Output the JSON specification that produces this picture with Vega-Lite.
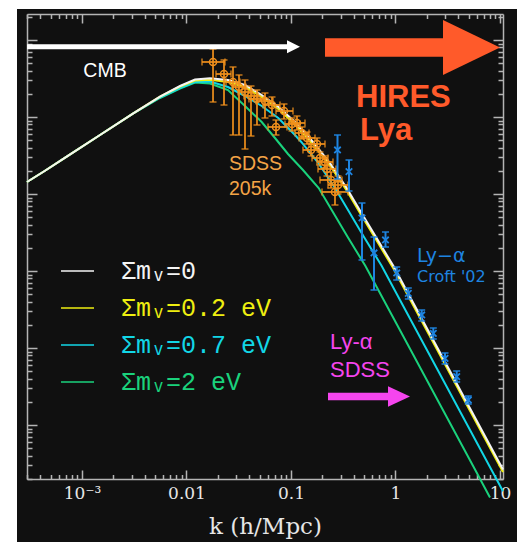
{
  "$schema": "https://vega.github.io/schema/vega-lite/v6.json",
  "width": 500,
  "height": 533,
  "autosize": {"type": "none"},
  "padding": {"left": 17, "top": 9, "right": 8, "bottom": 12},
  "background": "#ffffff",
  "config": {
    "view": {"stroke": null, "fill": "#101010"},
    "axis": {"grid": false}
  },
  "datasets": {
    "curves": [
      {"model": "Σmᵥ=2 eV", "k": 0.00029764, "P": 1432},
      {"model": "Σmᵥ=2 eV", "k": 0.0004425, "P": 2004},
      {"model": "Σmᵥ=2 eV", "k": 0.0007138, "P": 3051},
      {"model": "Σmᵥ=2 eV", "k": 0.001487, "P": 5838},
      {"model": "Σmᵥ=2 eV", "k": 0.003097, "P": 11170},
      {"model": "Σmᵥ=2 eV", "k": 0.005577, "P": 17650},
      {"model": "Σmᵥ=2 eV", "k": 0.008667, "P": 23450},
      {"model": "Σmᵥ=2 eV", "k": 0.01206, "P": 28060},
      {"model": "Σmᵥ=2 eV", "k": 0.01679, "P": 27230},
      {"model": "Σmᵥ=2 eV", "k": 0.02494, "P": 22420},
      {"model": "Σmᵥ=2 eV", "k": 0.03629, "P": 13900},
      {"model": "Σmᵥ=2 eV", "k": 0.05244, "P": 8610},
      {"model": "Σmᵥ=2 eV", "k": 0.07029, "P": 5338},
      {"model": "Σmᵥ=2 eV", "k": 0.09362, "P": 3307},
      {"model": "Σmᵥ=2 eV", "k": 0.1302, "P": 2049},
      {"model": "Σmᵥ=2 eV", "k": 0.1841, "P": 1196},
      {"model": "Σmᵥ=2 eV", "k": 0.2468, "P": 610.6},
      {"model": "Σmᵥ=2 eV", "k": 0.3512, "P": 272.3},
      {"model": "Σmᵥ=2 eV", "k": 0.514, "P": 116.8},
      {"model": "Σmᵥ=2 eV", "k": 0.7711, "P": 42.02},
      {"model": "Σmᵥ=2 eV", "k": 1.439, "P": 8.716},
      {"model": "Σmᵥ=2 eV", "k": 2.786, "P": 1.648},
      {"model": "Σmᵥ=2 eV", "k": 5.765, "P": 0.2643},
      {"model": "Σmᵥ=2 eV", "k": 8.022, "P": 0.1147},
      {"model": "Σmᵥ=0.7 eV", "k": 0.00029764, "P": 1432},
      {"model": "Σmᵥ=0.7 eV", "k": 0.0004425, "P": 2004},
      {"model": "Σmᵥ=0.7 eV", "k": 0.0007138, "P": 3051},
      {"model": "Σmᵥ=0.7 eV", "k": 0.001487, "P": 5838},
      {"model": "Σmᵥ=0.7 eV", "k": 0.003097, "P": 11170},
      {"model": "Σmᵥ=0.7 eV", "k": 0.005577, "P": 17920},
      {"model": "Σmᵥ=0.7 eV", "k": 0.008667, "P": 23800},
      {"model": "Σmᵥ=0.7 eV", "k": 0.01206, "P": 28480},
      {"model": "Σmᵥ=0.7 eV", "k": 0.01679, "P": 28910},
      {"model": "Σmᵥ=0.7 eV", "k": 0.02494, "P": 24520},
      {"model": "Σmᵥ=0.7 eV", "k": 0.03629, "P": 18740},
      {"model": "Σmᵥ=0.7 eV", "k": 0.05244, "P": 13900},
      {"model": "Σmᵥ=0.7 eV", "k": 0.07556, "P": 9705},
      {"model": "Σmᵥ=0.7 eV", "k": 0.1092, "P": 5838},
      {"model": "Σmᵥ=0.7 eV", "k": 0.1255, "P": 4735},
      {"model": "Σmᵥ=0.7 eV", "k": 0.1825, "P": 2527},
      {"model": "Σmᵥ=0.7 eV", "k": 0.2636, "P": 1196},
      {"model": "Σmᵥ=0.7 eV", "k": 0.3535, "P": 610.6},
      {"model": "Σmᵥ=0.7 eV", "k": 0.5028, "P": 272.3},
      {"model": "Σmᵥ=0.7 eV", "k": 0.7362, "P": 116.8},
      {"model": "Σmᵥ=0.7 eV", "k": 1.104, "P": 42.02},
      {"model": "Σmᵥ=0.7 eV", "k": 2.06, "P": 8.716},
      {"model": "Σmᵥ=0.7 eV", "k": 3.99, "P": 1.648},
      {"model": "Σmᵥ=0.7 eV", "k": 8.255, "P": 0.2643},
      {"model": "Σmᵥ=0.7 eV", "k": 10.684, "P": 0.1381},
      {"model": "Σmᵥ=0.2 eV", "k": 0.00029764, "P": 1432},
      {"model": "Σmᵥ=0.2 eV", "k": 0.0004425, "P": 2004},
      {"model": "Σmᵥ=0.2 eV", "k": 0.0007138, "P": 3051},
      {"model": "Σmᵥ=0.2 eV", "k": 0.001487, "P": 5838},
      {"model": "Σmᵥ=0.2 eV", "k": 0.003097, "P": 11170},
      {"model": "Σmᵥ=0.2 eV", "k": 0.005577, "P": 18350},
      {"model": "Σmᵥ=0.2 eV", "k": 0.008667, "P": 24890},
      {"model": "Σmᵥ=0.2 eV", "k": 0.01206, "P": 29790},
      {"model": "Σmᵥ=0.2 eV", "k": 0.01679, "P": 30420},
      {"model": "Σmᵥ=0.2 eV", "k": 0.02494, "P": 28480},
      {"model": "Σmᵥ=0.2 eV", "k": 0.03629, "P": 24520},
      {"model": "Σmᵥ=0.2 eV", "k": 0.05244, "P": 18190},
      {"model": "Σmᵥ=0.2 eV", "k": 0.07556, "P": 12700},
      {"model": "Σmᵥ=0.2 eV", "k": 0.1092, "P": 7990},
      {"model": "Σmᵥ=0.2 eV", "k": 0.1624, "P": 4395},
      {"model": "Σmᵥ=0.2 eV", "k": 0.2361, "P": 2345},
      {"model": "Σmᵥ=0.2 eV", "k": 0.3412, "P": 1110},
      {"model": "Σmᵥ=0.2 eV", "k": 0.4573, "P": 566.5},
      {"model": "Σmᵥ=0.2 eV", "k": 0.6508, "P": 255.7},
      {"model": "Σmᵥ=0.2 eV", "k": 0.9526, "P": 108.4},
      {"model": "Σmᵥ=0.2 eV", "k": 1.429, "P": 38.98},
      {"model": "Σmᵥ=0.2 eV", "k": 2.666, "P": 8.088},
      {"model": "Σmᵥ=0.2 eV", "k": 5.163, "P": 1.529},
      {"model": "Σmᵥ=0.2 eV", "k": 10.684, "P": 0.2453},
      {"model": "Σmᵥ=0", "k": 0.00029764, "P": 1432},
      {"model": "Σmᵥ=0", "k": 0.0004425, "P": 2004},
      {"model": "Σmᵥ=0", "k": 0.0007138, "P": 3051},
      {"model": "Σmᵥ=0", "k": 0.001487, "P": 5838},
      {"model": "Σmᵥ=0", "k": 0.003097, "P": 11170},
      {"model": "Σmᵥ=0", "k": 0.005577, "P": 18350},
      {"model": "Σmᵥ=0", "k": 0.008667, "P": 25270},
      {"model": "Σmᵥ=0", "k": 0.01206, "P": 30690},
      {"model": "Σmᵥ=0", "k": 0.01679, "P": 31900},
      {"model": "Σmᵥ=0", "k": 0.02494, "P": 30230},
      {"model": "Σmᵥ=0", "k": 0.03629, "P": 26030},
      {"model": "Σmᵥ=0", "k": 0.05244, "P": 19310},
      {"model": "Σmᵥ=0", "k": 0.07556, "P": 13610},
      {"model": "Σmᵥ=0", "k": 0.1092, "P": 8610},
      {"model": "Σmᵥ=0", "k": 0.1624, "P": 4735},
      {"model": "Σmᵥ=0", "k": 0.2361, "P": 2527},
      {"model": "Σmᵥ=0", "k": 0.3412, "P": 1196},
      {"model": "Σmᵥ=0", "k": 0.4573, "P": 610.6},
      {"model": "Σmᵥ=0", "k": 0.6508, "P": 275.6},
      {"model": "Σmᵥ=0", "k": 0.9526, "P": 116.8},
      {"model": "Σmᵥ=0", "k": 1.429, "P": 42.02},
      {"model": "Σmᵥ=0", "k": 2.666, "P": 8.716},
      {"model": "Σmᵥ=0", "k": 5.163, "P": 1.648},
      {"model": "Σmᵥ=0", "k": 10.684, "P": 0.2643}
    ],
    "sdss": [
      {"k": 0.01794, "P": 51800, "klo": 0.01407, "khi": 0.02335, "plo": 15660, "phi": 76390},
      {"k": 0.02285, "P": 36170, "klo": 0.01916, "khi": 0.02666, "plo": 14310, "phi": 55000},
      {"k": 0.02786, "P": 28480, "klo": 0.02388, "khi": 0.03251, "plo": 5838, "phi": 44610},
      {"k": 0.0318, "P": 24520, "klo": 0.02725, "khi": 0.03711, "plo": 5838, "phi": 35120},
      {"k": 0.03629, "P": 21120, "klo": 0.03111, "khi": 0.04234, "plo": 3840, "phi": 30230},
      {"k": 0.04142, "P": 18740, "klo": 0.03549, "khi": 0.04832, "plo": 5664, "phi": 25270},
      {"k": 0.04726, "P": 17130, "klo": 0.03963, "khi": 0.05515, "plo": 7873, "phi": 22420},
      {"k": 0.05638, "P": 16140, "klo": 0.04624, "khi": 0.06727, "plo": 9705, "phi": 20490},
      {"k": 0.0658, "P": 14310, "klo": 0.05396, "khi": 0.07846, "plo": 10300, "phi": 18190},
      {"k": 0.07186, "P": 7417, "klo": 0.06026, "khi": 0.09156, "plo": 5838, "phi": 9141},
      {"k": 0.0857, "P": 11960, "klo": 0.07186, "khi": 0.1045, "plo": 9419, "phi": 14750},
      {"k": 0.1022, "P": 8111, "klo": 0.08762, "khi": 0.1219, "plo": 6579, "phi": 9705},
      {"k": 0.1141, "P": 8358, "klo": 0.0957, "khi": 0.1361, "plo": 6780, "phi": 10300},
      {"k": 0.1275, "P": 6198, "klo": 0.1092, "khi": 0.1487, "plo": 5180, "phi": 7417},
      {"k": 0.1423, "P": 5338, "klo": 0.1193, "khi": 0.1697, "plo": 4461, "phi": 6386},
      {"k": 0.1554, "P": 3728, "klo": 0.1302, "khi": 0.1853, "plo": 3116, "phi": 4461},
      {"k": 0.1773, "P": 4461, "klo": 0.1487, "khi": 0.2115, "plo": 3728, "phi": 5338},
      {"k": 0.1895, "P": 2935, "klo": 0.1589, "khi": 0.226, "plo": 2380, "phi": 3512},
      {"k": 0.2115, "P": 2603, "klo": 0.1773, "khi": 0.2522, "plo": 2176, "phi": 3116},
      {"k": 0.2211, "P": 2112, "klo": 0.1813, "khi": 0.2695, "plo": 1713, "phi": 2603},
      {"k": 0.2415, "P": 1520, "klo": 0.1895, "khi": 0.3076, "plo": 1196, "phi": 1931},
      {"k": 0.2636, "P": 1062, "klo": 0.198, "khi": 0.3512, "plo": 719.7, "phi": 1520},
      {"k": 0.2817, "P": 1309, "klo": 0.226, "khi": 0.3512, "plo": 1000, "phi": 1713}
    ],
    "croft": [
      {"k": 0.2786, "P": 3728, "plo": 1566, "phi": 5838},
      {"k": 0.3589, "P": 1948, "plo": 1094, "phi": 2764},
      {"k": 0.4779, "P": 488, "plo": 139, "phi": 764},
      {"k": 0.6228, "P": 171.3, "plo": 56.64, "phi": 276.4},
      {"k": 0.8021, "P": 252.7, "plo": 205, "phi": 321},
      {"k": 1.027, "P": 94.19, "plo": 76.4, "phi": 112.7},
      {"k": 1.326, "P": 51.33, "plo": 43.29, "phi": 60.15},
      {"k": 1.781, "P": 26.83, "plo": 22.42, "phi": 31.15},
      {"k": 2.3, "P": 15.52, "plo": 13.09, "phi": 18.19},
      {"k": 2.977, "P": 7.349, "plo": 6.197, "phi": 8.613},
      {"k": 3.851, "P": 4.24, "plo": 3.617, "phi": 5.027},
      {"k": 4.974, "P": 2.112, "plo": 1.874, "phi": 2.381}
    ],
    "notes": [
      {"note": "cmb", "k": 0.00166, "P": 32780, "text": "CMB"},
      {"note": "hires", "k": 0.4188, "P": 13490, "text": "HIRES"},
      {"note": "hires", "k": 0.4573, "P": 5027, "text": "Lya"},
      {"note": "sdss", "k": 0.02551, "P": 2049, "text": "SDSS"},
      {"note": "sdss", "k": 0.02551, "P": 970.5, "text": "205k"},
      {"note": "lyacroft", "k": 1.606, "P": 132.1, "text": "Ly−α"},
      {"note": "croft", "k": 1.606, "P": 71.97, "text": "Croft '02"},
      {"note": "lyasdss", "k": 0.2361, "P": 9.705, "text": "Ly-α"},
      {"note": "lyasdss", "k": 0.2361, "P": 4.202, "text": "SDSS"}
    ],
    "arrows": [
      {"arrow": "cmb", "k": 0.00029764, "k2": 0.09362, "P": 81850},
      {"arrow": "hires", "k": 0.2115, "k2": 3.043, "P": 79900},
      {"arrow": "lyasdss", "k": 0.226, "k2": 0.8858, "P": 2.345}
    ],
    "heads": [
      {"arrow": "cmb", "k": 0.1057, "P": 81850},
      {"arrow": "hires", "k": 5.338, "P": 79900},
      {"arrow": "lyasdss", "k": 1.08, "P": 2.345}
    ]
  },
  "encoding": {
    "x": {"field": "k", "type": "quantitative", "scale": {"type": "log", "domain": [0.00029764, 10.684], "range": [10, 486], "nice": false}, "axis": null},
    "y": {"field": "P", "type": "quantitative", "scale": {"type": "log", "domain": [0.19889, 217570], "range": [470, 5], "nice": false}, "axis": null}
  },
  "layer": [
    {
      "data": {"name": "curves"},
      "mark": {"type": "line", "strokeWidth": 2, "clip": true},
      "encoding": {
        "x": {"field": "k", "type": "quantitative", "scale": {"type": "log", "domain": [0.00029764, 10.684], "range": [10, 486], "nice": false},
          "axis": {"orient": "bottom", "offset": -63,
            "values": [0.0003,0.0004,0.0005,0.0006,0.0007,0.0008,0.0009,0.001,0.002,0.003,0.004,0.005,0.006,0.007,0.008,0.009,0.01,0.02,0.03,0.04,0.05,0.06,0.07,0.08,0.09,0.1,0.2,0.3,0.4,0.5,0.6,0.7,0.8,0.9,1,2,3,4,5,6,7,8,9,10],
            "labelExpr": "datum.value == 0.001 ? '10⁻³' : datum.value == 0.01 ? '0.01' : datum.value == 0.1 ? '0.1' : datum.value == 1 ? '1' : datum.value == 10 ? '10' : ''",
            "labelOverlap": false, "labelFlush": false,
            "labelFont": "DejaVu Serif", "labelFontSize": 17, "labelColor": "#e6e6e6", "labelPadding": 15,
            "tickSize": {"condition": {"test": "abs(log(datum.value)/LN10 - round(log(datum.value)/LN10)) < 0.0001", "value": -9}, "value": -4.5},
            "tickColor": "#b4b4b4", "tickWidth": 1.5,
            "domainColor": "#b4b4b4", "domainWidth": 1.5,
            "title": "k (h/Mpc)", "titleFont": "DejaVu Serif", "titleFontSize": 23, "titleFontWeight": "normal", "titleColor": "#e6e6e6", "titlePadding": 10}},
        "y": {"field": "P", "type": "quantitative", "scale": {"type": "log", "domain": [0.19889, 217570], "range": [470, 5], "nice": false},
          "axis": {"orient": "left", "offset": -10, "labels": false, "title": null,
            "values": [0.2,0.3,0.4,0.5,0.6,0.7,0.8,0.9,1,2,3,4,5,6,7,8,9,10,20,30,40,50,60,70,80,90,100,200,300,400,500,600,700,800,900,1000,2000,3000,4000,5000,6000,7000,8000,9000,10000,20000,30000,40000,50000,60000,70000,80000,90000,100000,200000],
            "tickSize": {"condition": {"test": "abs(log(datum.value)/LN10 - round(log(datum.value)/LN10)) < 0.0001", "value": -10}, "value": -5},
            "tickColor": "#b4b4b4", "tickWidth": 1.5,
            "domainColor": "#b4b4b4", "domainWidth": 1.5}},
        "color": {"field": "model", "type": "nominal",
          "scale": {"domain": ["Σmᵥ=0", "Σmᵥ=0.2 eV", "Σmᵥ=0.7 eV", "Σmᵥ=2 eV"], "range": ["#f4f4f4", "#eeee10", "#12d6e6", "#1ad27c"]},
          "legend": {"orient": "none", "legendX": 43, "legendY": 244.5, "direction": "vertical", "title": null, "padding": 0,
            "symbolType": "stroke", "symbolSize": 1089, "symbolStrokeWidth": 1.5,
            "labelFont": "Liberation Mono, DejaVu Sans Mono", "labelFontSize": 25, "labelOffset": 26, "labelLimit": 400,
            "rowPadding": 6,
            "encode": {"labels": {"update": {"fill": {"scale": "color", "field": "value"}}}}}}
      }
    },
    {
      "data": {"name": "sdss"},
      "mark": {"type": "errorbar", "color": "#f0901c", "thickness": 1.7, "ticks": {"size": 7, "thickness": 1.7}},
      "encoding": {
        "y": {"field": "plo", "type": "quantitative", "scale": {"type": "log", "domain": [0.19889, 217570], "range": [470, 5], "nice": false}, "axis": null},
        "y2": {"field": "phi"}
      }
    },
    {
      "data": {"name": "sdss"},
      "mark": {"type": "errorbar", "color": "#f0901c", "thickness": 1.7, "ticks": {"size": 7, "thickness": 1.7}},
      "encoding": {
        "x": {"field": "klo", "type": "quantitative", "scale": {"type": "log", "domain": [0.00029764, 10.684], "range": [10, 486], "nice": false}, "axis": null},
        "x2": {"field": "khi"}
      }
    },
    {
      "data": {"name": "sdss"},
      "mark": {"type": "point", "shape": "circle", "filled": false, "color": "#f0901c", "size": 50, "strokeWidth": 1.5, "opacity": 1},
      "encoding": {
        "x": {"field": "k", "type": "quantitative", "scale": {"type": "log", "domain": [0.00029764, 10.684], "range": [10, 486], "nice": false},
          "axis": {"orient": "top", "offset": -5, "labels": false, "title": null,
            "values": [0.0003,0.0004,0.0005,0.0006,0.0007,0.0008,0.0009,0.001,0.002,0.003,0.004,0.005,0.006,0.007,0.008,0.009,0.01,0.02,0.03,0.04,0.05,0.06,0.07,0.08,0.09,0.1,0.2,0.3,0.4,0.5,0.6,0.7,0.8,0.9,1,2,3,4,5,6,7,8,9,10],
            "tickSize": {"condition": {"test": "abs(log(datum.value)/LN10 - round(log(datum.value)/LN10)) < 0.0001", "value": -9}, "value": -4.5},
            "tickColor": "#b4b4b4", "tickWidth": 1.5,
            "domainColor": "#b4b4b4", "domainWidth": 1.5}},
        "y": {"field": "P", "type": "quantitative", "scale": {"type": "log", "domain": [0.19889, 217570], "range": [470, 5], "nice": false},
          "axis": {"orient": "right", "offset": -14, "labels": false, "title": null,
            "values": [0.2,0.3,0.4,0.5,0.6,0.7,0.8,0.9,1,2,3,4,5,6,7,8,9,10,20,30,40,50,60,70,80,90,100,200,300,400,500,600,700,800,900,1000,2000,3000,4000,5000,6000,7000,8000,9000,10000,20000,30000,40000,50000,60000,70000,80000,90000,100000,200000],
            "tickSize": {"condition": {"test": "abs(log(datum.value)/LN10 - round(log(datum.value)/LN10)) < 0.0001", "value": -10}, "value": -5},
            "tickColor": "#b4b4b4", "tickWidth": 1.5,
            "domainColor": "#b4b4b4", "domainWidth": 1.5}}
      }
    },
    {
      "data": {"name": "croft"},
      "mark": {"type": "errorbar", "color": "#1e84e0", "thickness": 2, "ticks": {"size": 7, "thickness": 2}},
      "encoding": {
        "y": {"field": "plo", "type": "quantitative", "scale": {"type": "log", "domain": [0.19889, 217570], "range": [470, 5], "nice": false}, "axis": null},
        "y2": {"field": "phi"}
      }
    },
    {
      "data": {"name": "croft"},
      "mark": {"type": "point", "shape": "M-1,-1L1,1M-1,1L1,-1", "filled": false, "color": "#1e84e0", "size": 42, "strokeWidth": 1.8, "opacity": 1}
    },
    {
      "data": {"name": "arrows"},
      "transform": [{"filter": "datum.arrow == 'cmb'"}],
      "mark": {"type": "rule", "color": "#ffffff", "strokeWidth": 5, "strokeCap": "butt"},
      "encoding": {"x2": {"field": "k2"}}
    },
    {
      "data": {"name": "arrows"},
      "transform": [{"filter": "datum.arrow == 'hires'"}],
      "mark": {"type": "rule", "color": "#ff5a2a", "strokeWidth": 18.5, "strokeCap": "butt"},
      "encoding": {"x2": {"field": "k2"}}
    },
    {
      "data": {"name": "arrows"},
      "transform": [{"filter": "datum.arrow == 'lyasdss'"}],
      "mark": {"type": "rule", "color": "#f545ee", "strokeWidth": 7.5, "strokeCap": "butt"},
      "encoding": {"x2": {"field": "k2"}}
    },
    {
      "data": {"name": "heads"},
      "transform": [{"filter": "datum.arrow == 'cmb'"}],
      "mark": {"type": "point", "shape": "M-1,-1L1,0L-1,1Z", "filled": true, "color": "#ffffff", "size": 169, "opacity": 1}
    },
    {
      "data": {"name": "heads"},
      "transform": [{"filter": "datum.arrow == 'hires'"}],
      "mark": {"type": "point", "shape": "M-1,-0.965L1,0L-1,0.965Z", "filled": true, "color": "#ff5a2a", "size": 3249, "opacity": 1}
    },
    {
      "data": {"name": "heads"},
      "transform": [{"filter": "datum.arrow == 'lyasdss'"}],
      "mark": {"type": "point", "shape": "M-1,-0.94L1,0L-1,0.94Z", "filled": true, "color": "#f545ee", "size": 484, "opacity": 1}
    },
    {
      "data": {"name": "notes"},
      "transform": [{"filter": "datum.note == 'cmb'"}],
      "mark": {"type": "text", "align": "center", "baseline": "alphabetic", "font": "Liberation Sans", "fontSize": 19.5, "color": "#ffffff"},
      "encoding": {"text": {"field": "text"}}
    },
    {
      "data": {"name": "notes"},
      "transform": [{"filter": "datum.note == 'hires'"}],
      "mark": {"type": "text", "align": "left", "baseline": "alphabetic", "font": "Liberation Sans", "fontSize": 31, "fontWeight": "bold", "color": "#ff5a2a"},
      "encoding": {"text": {"field": "text"}}
    },
    {
      "data": {"name": "notes"},
      "transform": [{"filter": "datum.note == 'sdss'"}],
      "mark": {"type": "text", "align": "left", "baseline": "alphabetic", "font": "Liberation Sans", "fontSize": 19.5, "color": "#f4a446"},
      "encoding": {"text": {"field": "text"}}
    },
    {
      "data": {"name": "notes"},
      "transform": [{"filter": "datum.note == 'lyacroft'"}],
      "mark": {"type": "text", "align": "left", "baseline": "alphabetic", "font": "DejaVu Sans", "fontSize": 19, "color": "#1e84e0"},
      "encoding": {"text": {"field": "text"}}
    },
    {
      "data": {"name": "notes"},
      "transform": [{"filter": "datum.note == 'croft'"}],
      "mark": {"type": "text", "align": "left", "baseline": "alphabetic", "font": "DejaVu Sans", "fontSize": 16, "color": "#1e84e0"},
      "encoding": {"text": {"field": "text"}}
    },
    {
      "data": {"name": "notes"},
      "transform": [{"filter": "datum.note == 'lyasdss'"}],
      "mark": {"type": "text", "align": "left", "baseline": "alphabetic", "font": "Liberation Sans", "fontSize": 22, "color": "#f545ee"},
      "encoding": {"text": {"field": "text"}}
    }
  ],
  "resolve": {"axis": {"x": "independent", "y": "independent"}}
}
